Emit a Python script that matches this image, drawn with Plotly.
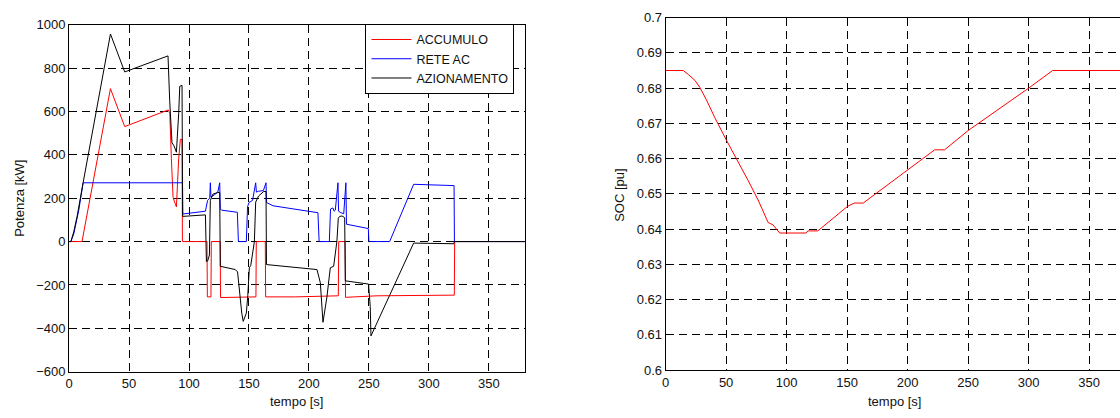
import plotly.graph_objects as go

W, H = 1120, 418

# ---- Left panel data: power [kW] vs time [s] ----
t_acc = [0, 10.8, 34.5, 46.4, 82.8, 84.0, 85.3, 86.7, 88.0, 89.5, 91.4, 92.8, 94.2, 94.5,
         115.0, 115.3, 118.3, 118.6, 126.0, 126.3, 155.8, 156.1, 163.6, 163.9, 188.6,
         224.5, 224.8, 230.2, 230.5, 256.7, 321.2, 321.5, 380]
p_acc = [0, 0, 705, 530, 607, 590, 382, 204, 182, 160, 382, 471, 471, 0,
         0, -255, -255, 0, 0, -258, -255, 0, 0, -255, -255,
         -250, 0, 0, -257, -250, -247, 0, 0]

t_rete = [0, 1.5, 3.9, 5.3, 8.1, 11.7, 94.6, 94.8, 113.7, 115.5, 117.3, 117.8, 118.3, 121,
          124, 125.6, 126.1, 127, 140.3, 141.2, 147.8, 148.8, 150, 153, 155.6, 156.2,
          158, 162, 164.2, 164.7, 170, 207.5, 208.5, 217, 218, 220, 221, 222, 224.2, 224.7,
          226, 229, 230.8, 231.3, 249.5, 250, 267.3, 287.3, 302.5, 321, 321.3, 380]
p_rete = [0, 0, 35, 71, 145, 271, 271, 127, 140, 190, 200, 271, 205, 215,
          228, 271, 150, 145, 135, 0, 0, 160, 180, 190, 271, 228,
          232, 235, 271, 180, 165, 133, 0, 0, 150, 155, 140, 145, 271, 140,
          135, 128, 271, 80, 60, 0, 0, 264, 262, 258, 0, 0]

t_az = [0, 1.5, 3.9, 6.7, 11.7, 34.5, 46.4, 82.5, 83.9, 85.8, 87.5, 89.5, 91.4, 92.3,
        94.2, 94.7, 113.7, 114.5, 115.6, 117.0, 117.8, 120, 124, 125.6, 126.1, 138.6,
        140.5, 141.5, 142.5, 144.0, 145.2, 146.5, 147.8, 149.0, 150.3, 151.5, 152.8,
        153.5, 154.5, 155.6, 158, 162.3, 164.2, 164.6, 206.7, 209.5, 211.7, 215.0,
        217.8, 220.6, 221.8, 223.3, 224.5, 225.6, 227.6, 229.8, 230.3, 249.7, 251.1,
        251.7, 287.3, 300, 320.8, 321.2, 380]
p_az = [0, 0, 45, 116, 271, 957, 782, 856, 649, 456, 441, 412, 590, 716,
        720, 116, 123, -92, -89, -62, 190, 219, 226, 226, -114, -129,
        -140, -200, -255, -330, -368, -345, -330, -250, -121, -110, -69,
        -40, 0, 182, 210, 231, 231, -106, -129, -190, -372, -255,
        -121, -114, -60, 0, 108, 116, 118, 110, -181, -196, -300,
        -435, -7, -8, -10, 0, 0]

# ---- Right panel data: SOC [pu] vs time [s] ----
t_soc = [0, 14.5, 18.7, 24.2, 28.3, 33.8, 40.7, 50.3, 68.2, 76.4, 84.7, 88.8, 94.3,
         116.2, 117.6, 125.8, 150.5, 156, 163.3, 199, 222.4, 230.6, 249.8, 299.3,
         319.9, 376]
soc = [0.685, 0.685, 0.6839, 0.6822, 0.6802, 0.6766, 0.6716, 0.6652, 0.6538, 0.6483,
       0.6419, 0.6412, 0.6389, 0.6389, 0.6395, 0.6395, 0.6465, 0.6474, 0.6474, 0.6565,
       0.6625, 0.6625, 0.6679, 0.6798, 0.685, 0.685]

FONT = "Liberation Sans, Arial, sans-serif"
FS = 13

fig = go.Figure()
fig.add_trace(go.Scatter(x=t_acc, y=p_acc, mode="lines", name="ACCUMULO",
                         line=dict(color="#ff0000", width=1), xaxis="x", yaxis="y"))
fig.add_trace(go.Scatter(x=t_rete, y=p_rete, mode="lines", name="RETE AC",
                         line=dict(color="#0000ff", width=1), xaxis="x", yaxis="y"))
fig.add_trace(go.Scatter(x=t_az, y=p_az, mode="lines", name="AZIONAMENTO",
                         line=dict(color="#000000", width=1), xaxis="x", yaxis="y"))
fig.add_trace(go.Scatter(x=t_soc, y=soc, mode="lines", name="SOC", showlegend=False,
                         line=dict(color="#ff0000", width=1), xaxis="x2", yaxis="y2"))

def px_x(p):
    return p / W

def px_y(p):
    return 1 - p / H

common = dict(showline=True, linecolor="black", linewidth=1, showgrid=True,
              gridcolor="black", gridwidth=1, griddash="8px,5px", zeroline=False,
              ticks="", tickfont=dict(family=FONT, size=FS, color="#111"))

fig.update_layout(
    width=W, height=H,
    margin=dict(l=0, r=0, t=0, b=0),
    paper_bgcolor="white", plot_bgcolor="white",
    font=dict(family=FONT, size=FS, color="#111"),
    xaxis=dict(domain=[px_x(65.3), px_x(522.7)], range=[0, 380], dtick=50, tick0=0,
               anchor="y", mirror=True, **common),
    yaxis=dict(domain=[px_y(378.3), px_y(18.3)], range=[-600, 1000], dtick=200, tick0=0,
               anchor="x", mirror=True, **common),
    xaxis2=dict(domain=[px_x(664), 1.0], range=[0, 375.6], dtick=50, tick0=0,
                anchor="y2", mirror=True, **common),
    yaxis2=dict(domain=[px_y(376.7), px_y(11)], range=[0.6, 0.7], dtick=0.01, tick0=0.6,
                anchor="x2", mirror=False, **common),
    legend=dict(x=px_x(512.3), xanchor="right", y=px_y(17.5), yanchor="top",
                bgcolor="white", bordercolor="black", borderwidth=1,
                font=dict(family=FONT, size=12.5, color="#111"), itemwidth=40),
    showlegend=True,
)

ann = [
    dict(text="Potenza [kW]", x=px_x(16), y=px_y(198), textangle=-90),
    dict(text="tempo [s]", x=px_x(294), y=px_y(409)),
    dict(text="SOC [pu]", x=px_x(617), y=px_y(195), textangle=-90),
    dict(text="tempo [s]", x=px_x(894), y=px_y(409)),
]
for a in ann:
    fig.add_annotation(xref="paper", yref="paper", showarrow=False,
                       xanchor="center", yanchor="middle",
                       font=dict(family=FONT, size=FS, color="#111"), **a)

fig.write_html("out.html")
